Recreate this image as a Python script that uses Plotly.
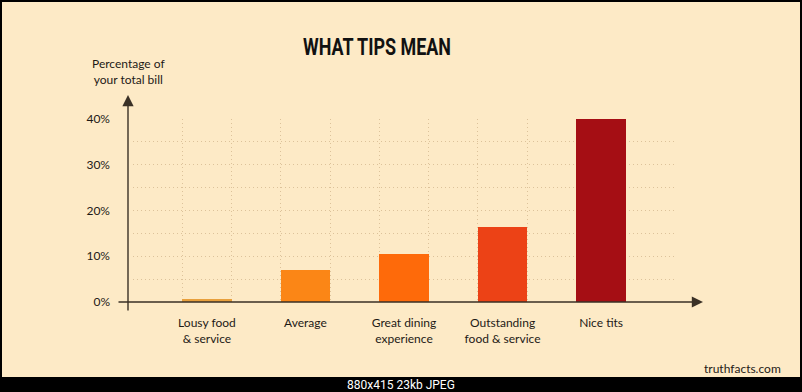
import plotly.graph_objects as go

# ---- data ----
categories = ["Lousy food<br>& service", "Average", "Great dining<br>experience",
              "Outstanding<br>food & service", "Nice tits"]
tip_pct = [0.7, 7.0, 10.5, 16.5, 40.0]
bar_colors = ["#E8A03C", "#FB8616", "#FE6A0A", "#EC4216", "#A50E14"]
y_tickvals = [0, 5, 10, 15, 20, 25, 30, 35, 40]
y_ticktext = ["0%", "", "10%", "", "20%", "", "30%", "", "40%"]

W, H = 802, 392
L, R, T, B = 133, 127, 119, 90
PW, PH = W - L - R, H - T - B

def px(xp):
    return (xp - L) / PW

def py(yp):
    return (H - B - yp) / PH

BG = "#FDEAC6"
GRID = "#DCC29A"
AX = "#3A3126"
TXT = "#1E1A16"
FONT = "Lato, 'Open Sans', sans-serif"
TITLE_FONT = "Roboto, 'Liberation Sans', sans-serif"
DOTS = "1px,3px"

fig = go.Figure()
fig.add_trace(go.Bar(x=categories, y=tip_pct, width=0.5,
                     marker=dict(color=bar_colors, line=dict(width=0)),
                     hoverinfo="skip", showlegend=False))
# invisible trace to register the overlay axis for vertical gridlines
fig.add_trace(go.Scatter(x=[], y=[], xaxis="x2", showlegend=False, hoverinfo="skip"))

fig.update_layout(
    width=W, height=H,
    margin=dict(l=L, r=R, t=T, b=B, pad=0),
    paper_bgcolor=BG, plot_bgcolor=BG,
    font=dict(family=FONT, size=12, color=TXT),
    bargap=0,
    title=dict(text="<b>WHAT TIPS MEAN</b>", x=px(377), xref="paper", xanchor="center",
               y=1 - 47 / H, yref="container", yanchor="middle",
               font=dict(family=TITLE_FONT, size=24, color="#111")),
    xaxis=dict(type="category", range=[-0.75, 4.75], showgrid=False, zeroline=False,
               showline=False, ticks="", ticklabelstandoff=12,
               tickfont=dict(family=FONT, size=12, color=TXT)),
    xaxis2=dict(overlaying="x", range=[-0.75, 4.75], showgrid=True, griddash=DOTS,
                gridcolor=GRID, gridwidth=1, showticklabels=False, ticks="",
                tickmode="array", tickvals=[-0.25, 0.25, 0.75, 1.25, 1.75, 2.25, 2.75,
                                            3.25, 3.75, 4.25, 4.75],
                zeroline=False, showline=False),
    yaxis=dict(range=[0, 40], tickmode="array", tickvals=y_tickvals, ticktext=y_ticktext,
               showgrid=True, griddash=DOTS, gridcolor=GRID, gridwidth=1,
               zeroline=False, showline=False, ticks="", ticklabelstandoff=22,
               tickfont=dict(family=FONT, size=12, color=TXT)),
)

# axis arrows
fig.add_annotation(x=px(128), y=py(95), xref="paper", yref="paper", text="",
                   showarrow=True, ax=0, ay=312 - 95, axref="pixel", ayref="pixel",
                   arrowhead=2, arrowsize=1.6, arrowwidth=1.4, arrowcolor=AX)
fig.add_annotation(x=px(703), y=py(302), xref="paper", yref="paper", text="",
                   showarrow=True, ax=117 - 703, ay=0, axref="pixel", ayref="pixel",
                   arrowhead=2, arrowsize=1.6, arrowwidth=1.4, arrowcolor=AX)

# y axis title
fig.add_annotation(x=px(128), y=py(72), xref="paper", yref="paper",
                   text="Percentage of<br>your total bill", showarrow=False,
                   xanchor="center", yanchor="middle", align="center",
                   font=dict(family=FONT, size=12, color=TXT))

# credit
fig.add_annotation(x=px(783), y=py(368), xref="paper", yref="paper",
                   text="truthfacts.com", showarrow=False,
                   xanchor="right", yanchor="middle",
                   font=dict(family=FONT, size=12, color=TXT))

# viewer frame
frame = [
    (0, 0, 802, 2),
    (0, 0, 2, 392),
    (800, 0, 802, 392),
    (0, 377, 802, 392),
]
for x0, y0, x1, y1 in frame:
    fig.add_shape(type="rect", xref="paper", yref="paper",
                  x0=px(x0), x1=px(x1), y0=py(y0), y1=py(y1),
                  fillcolor="#000", line=dict(width=0), layer="above")
fig.add_annotation(x=px(401), y=py(384.5), xref="paper", yref="paper",
                   text="880x415 23kb JPEG", showarrow=False,
                   xanchor="center", yanchor="middle",
                   font=dict(family="'Liberation Sans Narrow', Roboto, sans-serif",
                             size=12, color="#fff"))

post = (
    "document.body.style.margin='0';document.body.style.padding='0';"
    "document.body.style.overflow='hidden';"
    "var t=document.querySelector('.gtitle');"
    "if(t){t.setAttribute('textLength','148');"
    "t.setAttribute('lengthAdjust','spacingAndGlyphs');}"
)
fig.write_html("out.html", config={"displayModeBar": False, "staticPlot": True},
               post_script=post)
